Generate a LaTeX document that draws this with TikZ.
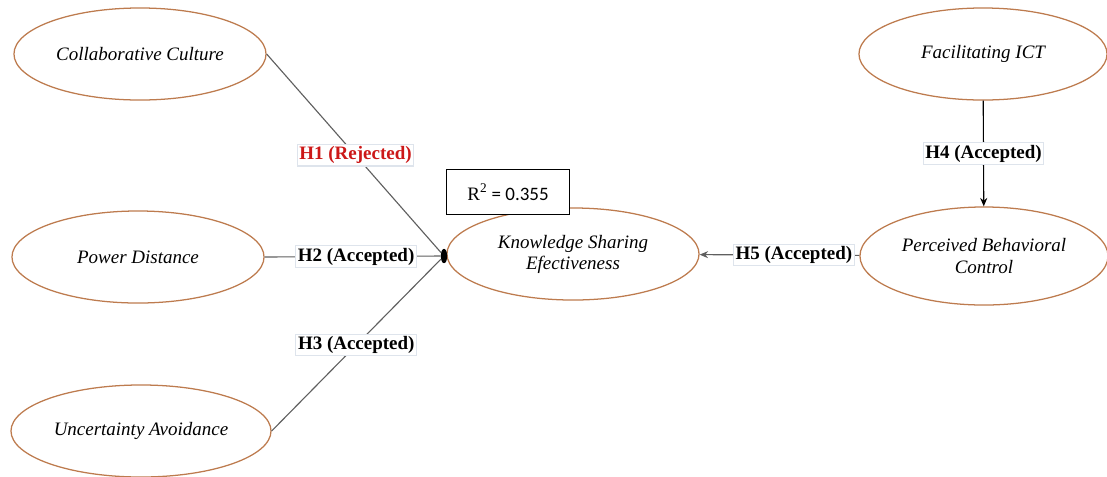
\documentclass[tikz,border=0pt]{standalone}
\usepackage{fontspec}
\setmainfont{Liberation Serif}
\newfontfamily\numfont{Carlito}
\usepackage{tikz}
\usetikzlibrary{shapes.geometric,arrows.meta,positioning}
\definecolor{ovalbrown}{RGB}{189,123,78}
\definecolor{linegray}{RGB}{95,95,95}
\definecolor{rejectred}{RGB}{204,24,24}
\definecolor{labelframe}{RGB}{222,228,236}

\begin{document}
\begin{tikzpicture}[x=0.025cm, y=-0.025cm,
  construct/.style={draw=ovalbrown, line width=0.9pt, ellipse, minimum width=6.3cm, minimum height=2.3cm, align=center, font=\fontsize{13.5}{15}\selectfont\itshape},
  hyp/.style={fill=white, draw=labelframe, inner sep=1.5pt, font=\fontsize{13.5}{15}\selectfont\bfseries},
  link/.style={draw=linegray, line width=0.8pt}]
  \useasboundingbox (0,0) rectangle (1107,476);
  % constructs
  \node[construct] (cc) at (140,54) {Collaborative Culture};
  \node[construct] (pd) at (138,257) {Power Distance};
  \node[construct] (ua) at (141,431) {Uncertainty Avoidance};
  \node[construct] (kse) at (573,254) {Knowledge Sharing\\Efectiveness};
  \node[construct, minimum width=6.2cm] (ict) at (983,54) {Facilitating ICT};
  \node[construct, minimum width=6.2cm, minimum height=2.45cm] (pbc) at (984,256) {Perceived Behavioral\\Control};
  \node[draw, fill=white, line width=0.9pt, minimum width=3.08cm, minimum height=1.12cm, font=\fontsize{13.5}{15}\selectfont] (rsq) at (508,192) {R\textsuperscript{2}{\numfont\ = 0.355}};
  \node[ellipse, fill=black, inner sep=0pt, minimum width=0.16cm, minimum height=0.36cm] (hub) at (444,256) {};
  % paths
  \draw[link] (cc.east) -- (hub) node[pos=0.51, hyp, text=rejectred] {H1 (Rejected)};
  \draw[link] (pd.east) -- (hub) node[pos=0.52, hyp] {H2 (Accepted)};
  \draw[link] (ua.east) -- (hub) node[pos=0.5, hyp] {H3 (Accepted)};
  \draw[link, -{Stealth[length=6pt,width=5pt]}, black] (ict) -- (pbc) node[midway, hyp] {H4 (Accepted)};
  \draw[link, -{Stealth[length=6pt,width=5pt]}] (pbc) -- (kse) node[pos=0.41, hyp] {H5 (Accepted)};
\end{tikzpicture}
\end{document}
